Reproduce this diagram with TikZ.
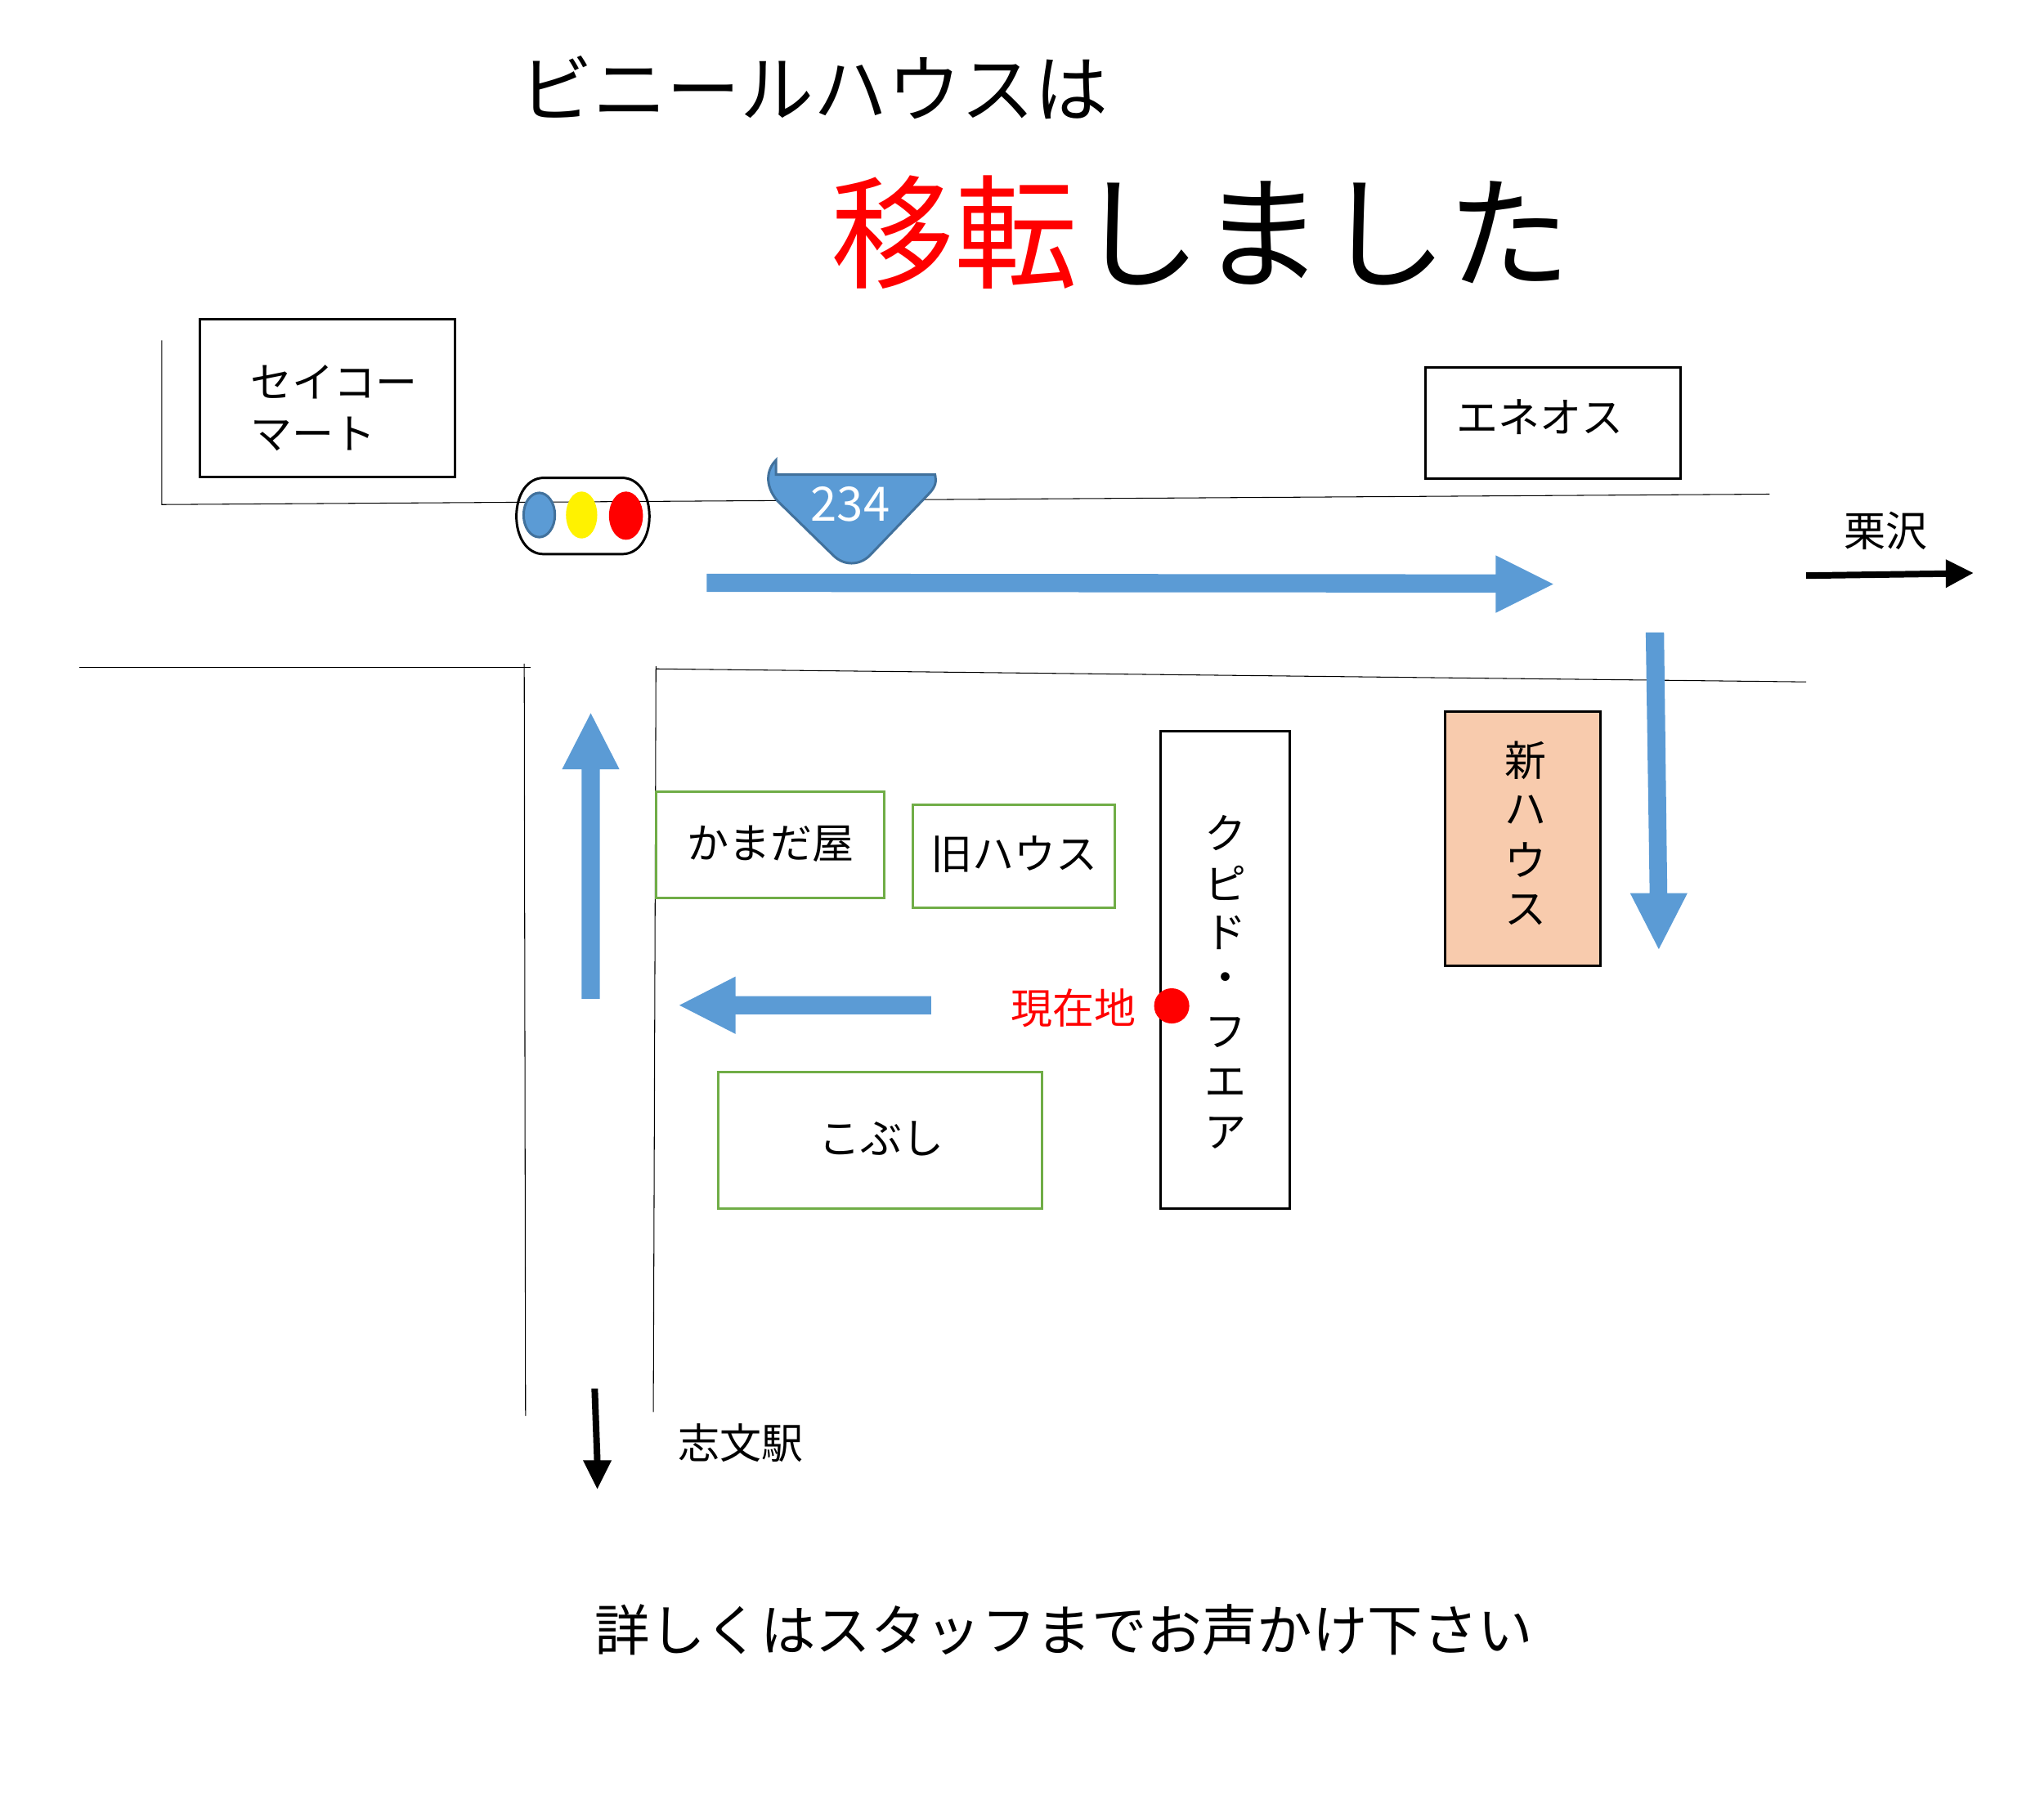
\documentclass[tikz,border=0pt]{standalone}
\usepackage{fontspec}
\setmainfont{Noto Sans CJK JP}
\usetikzlibrary{calc}
\definecolor{mblue}{HTML}{5B9BD5}
\definecolor{mbluedark}{HTML}{41719C}
\definecolor{mpeach}{HTML}{F8CBAD}
\definecolor{mgreen}{HTML}{70AD47}
\newcommand{\fsz}[1]{\fontsize{#1}{#1}\selectfont}
\tikzset{
  x=0.01595cm,y=-0.01595cm,
  roadline/.style={draw=black,line width=0.3pt},
  blackbox/.style={draw=black,line width=0.85pt,fill=white},
  greenbox/.style={draw=mgreen,line width=0.85pt,fill=white},
  lbl/.style={inner sep=0,outer sep=0,font=\fsz{14.5pt},text=black},
  bigarrow/.style={fill=mblue,draw=none},
  blackarrow/.style={fill=black,draw=none},
}
\begin{document}
\begin{tikzpicture}
\useasboundingbox (0,0) rectangle (1567.4,1380);
% road lines
\draw[roadline] (124,261) -- (124,387) -- (1357,379);
\draw[roadline] (61,512) -- (407,512);
\draw[roadline] (402,509) -- (403,1086);
\draw[roadline] (503,511) -- (501,1083);
\draw[roadline] (503,513) -- (1385,523);
% titles
\node[lbl,font=\fsz{25.6pt}] (t1) at (624,67) {ビニールハウスは};
\node[lbl,font=\fsz{42.9pt}] (t2) at (921,178) {\textcolor{red}{移転}しました};
\node[lbl,font=\fsz{19.2pt}] (t3) at (816,1250) {詳しくはスタッフまでお声かけ下さい};
% boxes
\node[blackbox,minimum width=0,inner sep=0] (seico) at (251,305.5) {};
\draw[blackbox] (153,245) rectangle (349,366);
\node[lbl,anchor=west] (s1) at (192,293) {セイコー};
\node[lbl,anchor=west] (s2) at (192,333) {マート};
\draw[blackbox] (1093,282) rectangle (1289,367);
\node[lbl,anchor=west] (en) at (1117,320) {エネオス};
\draw[greenbox] (503,607) rectangle (678,689);
\node[lbl] (ka) at (591,647) {かまだ屋};
\draw[greenbox] (700,617) rectangle (855,696);
\node[lbl] (ky) at (778,655) {旧ハウス};
\draw[greenbox] (551,822) rectangle (799,927);
\node[lbl] (ko) at (676,873) {こぶし};
\draw[blackbox] (890,561) rectangle (989,927);
\foreach \c/\i in {ク/0,ピ/1,ド/2,・/3,フ/4,エ/5,ア/6}
  \node[lbl] (kp\i) at (939.5,639+38.3*\i) {\c};
\draw[blackbox,fill=mpeach] (1108,546) rectangle (1227,741);
\foreach \c/\i in {新/0,ハ/1,ウ/2,ス/3}
  \node[lbl] (nh\i) at (1170,583+38.4*\i) {\c};
% signal
\draw[black,line width=0.85pt] (417,366.5) -- (477,366.5) .. controls (490,366.5) and (498,380) .. (498,396) .. controls (498,412) and (490,425) .. (477,425) -- (417,425) .. controls (404,425) and (396,412) .. (396,396) .. controls (396,380) and (404,366.5) .. (417,366.5) -- cycle;
\draw[fill=mblue,draw=mbluedark,line width=0.85pt] (413.5,395) ellipse (12 and 17);
\fill[yellow] (446,395) ellipse (12 and 18);
\fill[red] (480,395.5) ellipse (13 and 18.5);
% shield
\draw[fill=mblue,draw=mbluedark,line width=0.85pt] (595,353) .. controls (588,360) and (586,372) .. (596,384) -- (639,426) .. controls (647,434) and (659,434) .. (667,426) -- (712,379) .. controls (718,373) and (718,369) .. (717,364) -- (595,364) -- cycle;
\node[lbl,text=white,font=\fsz{16.5pt}] (r234) at (652,387) {234};
% blue arrows
\fill[bigarrow] (542,440) -- (1147,440.5) -- (1147,426) -- (1191,448) -- (1147,470) -- (1147,454.5) -- (542,454) -- cycle;
\fill[bigarrow] (1262,485) -- (1276,485) -- (1278.5,685) -- (1294,685) -- (1272,728) -- (1250,685) -- (1265,685) -- cycle;
\fill[bigarrow] (446,766) -- (446,590) -- (431,590) -- (453,547) -- (475,590) -- (460,590) -- (460,766) -- cycle;
\fill[bigarrow] (714,764) -- (564,764) -- (564,749) -- (521,771) -- (564,793) -- (564,778) -- (714,778) -- cycle;
% black arrows
\fill[blackarrow] (1385,439) -- (1492,437.5) -- (1492,429) -- (1513,439.5) -- (1492,451) -- (1492,442.5) -- (1385,444) -- cycle;
\fill[blackarrow] (453.5,1065) -- (455.5,1120) -- (447,1120) -- (458,1142) -- (469,1120) -- (460.5,1120) -- (458.5,1065) -- cycle;
\node[lbl] (ku) at (1446,407) {栗沢};
\node[lbl] (sh) at (568,1107) {志文駅};
% here
\node[lbl,text=red] (gz) at (823,773) {現在地};
\fill[red] (898.5,771.5) circle (13.5);
\end{tikzpicture}
\end{document}
